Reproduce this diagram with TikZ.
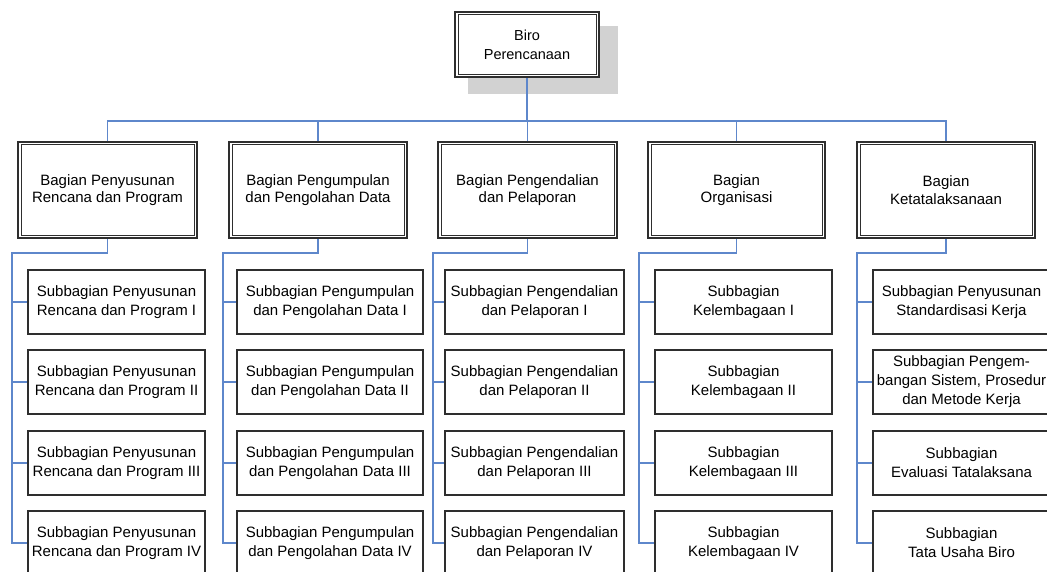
\documentclass[tikz,border=0pt]{standalone}
\usepackage{fontspec}
\setmainfont{Liberation Sans}
\usetikzlibrary{calc,backgrounds}
\definecolor{conn}{HTML}{5E87CB}
\definecolor{boxline}{HTML}{2E2E2E}
\definecolor{shadowgray}{HTML}{D2D2D2}
\tikzset{
  txt/.style={font=\fontsize{15}{19}\selectfont, align=center, inner sep=0pt},
  dblbox/.style={txt, font=\fontsize{15}{17.5}\selectfont, draw=boxline, line width=2.2pt, fill=white, minimum width=#1, minimum height=96pt},
  topbox/.style={txt, font=\fontsize{14.5}{19}\selectfont, draw=boxline, line width=2.2pt, fill=white, minimum width=144pt, minimum height=65pt},
  subbox/.style={txt, draw=boxline, line width=1.3pt, fill=white, minimum width=#1, minimum height=64pt},
  innerline/.style={draw=boxline, line width=0.8pt},
  link/.style={draw=conn, line width=1.3pt},
}
\begin{document}
\begin{tikzpicture}[x=1pt, y=-1pt]
\useasboundingbox (0,0) rectangle (1047,572);
\clip (0,0) rectangle (1047,572);

% top box
\node[topbox] (top) at (527,44.5) {Biro\\Perencanaan};
\begin{scope}[on background layer]
  \fill[shadowgray] ($(top.north west)+(14pt,-15pt)$) rectangle ($(top.south east)+(18pt,-16pt)$);
\end{scope}

% level 2
\node[dblbox=179pt] (b1) at (107.5,190) {Bagian Penyusunan\\Rencana dan Program};
\node[dblbox=178pt] (b2) at (318,190) {Bagian Pengumpulan\\dan Pengolahan Data};
\node[dblbox=179pt] (b3) at (527.5,190) {Bagian Pengendalian\\dan Pelaporan};
\node[dblbox=177pt] (b4) at (736.5,190) {Bagian\\Organisasi};
\node[dblbox=178pt] (b5) at (946,190) {Bagian\\Ketatalaksanaan};

\foreach \n in {top,b1,b2,b3,b4,b5}
  \draw[innerline] ($(\n.south west)+(4pt,4pt)$) rectangle ($(\n.north east)+(-4pt,-4pt)$);

% sub boxes
\foreach \c/\x in {1/116.5, 2/330, 3/534.5, 4/743.5, 5/961.5}{
  \foreach \k/\y in {1/302, 2/382, 3/463, 4/543}{
    \coordinate (p\c\k) at (\x,\y);
  }
}
\node[subbox=177pt] (s11) at (p11) {Subbagian Penyusunan\\Rencana dan Program I};
\node[subbox=177pt] (s12) at (p12) {Subbagian Penyusunan\\Rencana dan Program II};
\node[subbox=177pt] (s13) at (p13) {Subbagian Penyusunan\\Rencana dan Program III};
\node[subbox=177pt] (s14) at (p14) {Subbagian Penyusunan\\Rencana dan Program IV};

\node[subbox=186pt] (s21) at (p21) {Subbagian Pengumpulan\\dan Pengolahan Data I};
\node[subbox=186pt] (s22) at (p22) {Subbagian Pengumpulan\\dan Pengolahan Data II};
\node[subbox=186pt] (s23) at (p23) {Subbagian Pengumpulan\\dan Pengolahan Data III};
\node[subbox=186pt] (s24) at (p24) {Subbagian Pengumpulan\\dan Pengolahan Data IV};

\node[subbox=179pt] (s31) at (p31) {Subbagian Pengendalian\\dan Pelaporan I};
\node[subbox=179pt] (s32) at (p32) {Subbagian Pengendalian\\dan Pelaporan II};
\node[subbox=179pt] (s33) at (p33) {Subbagian Pengendalian\\dan Pelaporan III};
\node[subbox=179pt] (s34) at (p34) {Subbagian Pengendalian\\dan Pelaporan IV};

\node[subbox=177pt] (s41) at (p41) {Subbagian\\Kelembagaan I};
\node[subbox=177pt] (s42) at (p42) {Subbagian\\Kelembagaan II};
\node[subbox=177pt] (s43) at (p43) {Subbagian\\Kelembagaan III};
\node[subbox=177pt] (s44) at (p44) {Subbagian\\Kelembagaan IV};

\node[subbox=177pt] (s51) at (p51) {Subbagian Penyusunan\\Standardisasi Kerja};
\node[subbox=177pt] (s52) at (p52) {Subbagian Pengem-\\bangan Sistem, Prosedur\\dan Metode Kerja};
\node[subbox=177pt] (s53) at (p53) {Subbagian\\Evaluasi Tatalaksana};
\node[subbox=177pt] (s54) at (p54) {Subbagian\\Tata Usaha Biro};

% connectors top -> level 2
\coordinate (hub) at (527,121);
\draw[link] (top.south) -- (hub);
\foreach \n in {b1,b2,b3,b4,b5}
  \draw[link] (hub) -| (\n.north);

% connectors level 2 -> sub
\foreach \c/\bx in {1/12, 2/223, 3/433, 4/639, 5/857}{
  \coordinate (t\c) at (\bx,253);
  \foreach \k in {1,2,3,4}
    \draw[link] (b\c.south) |- (t\c) |- (s\c\k.west);
}
\end{tikzpicture}
\end{document}
